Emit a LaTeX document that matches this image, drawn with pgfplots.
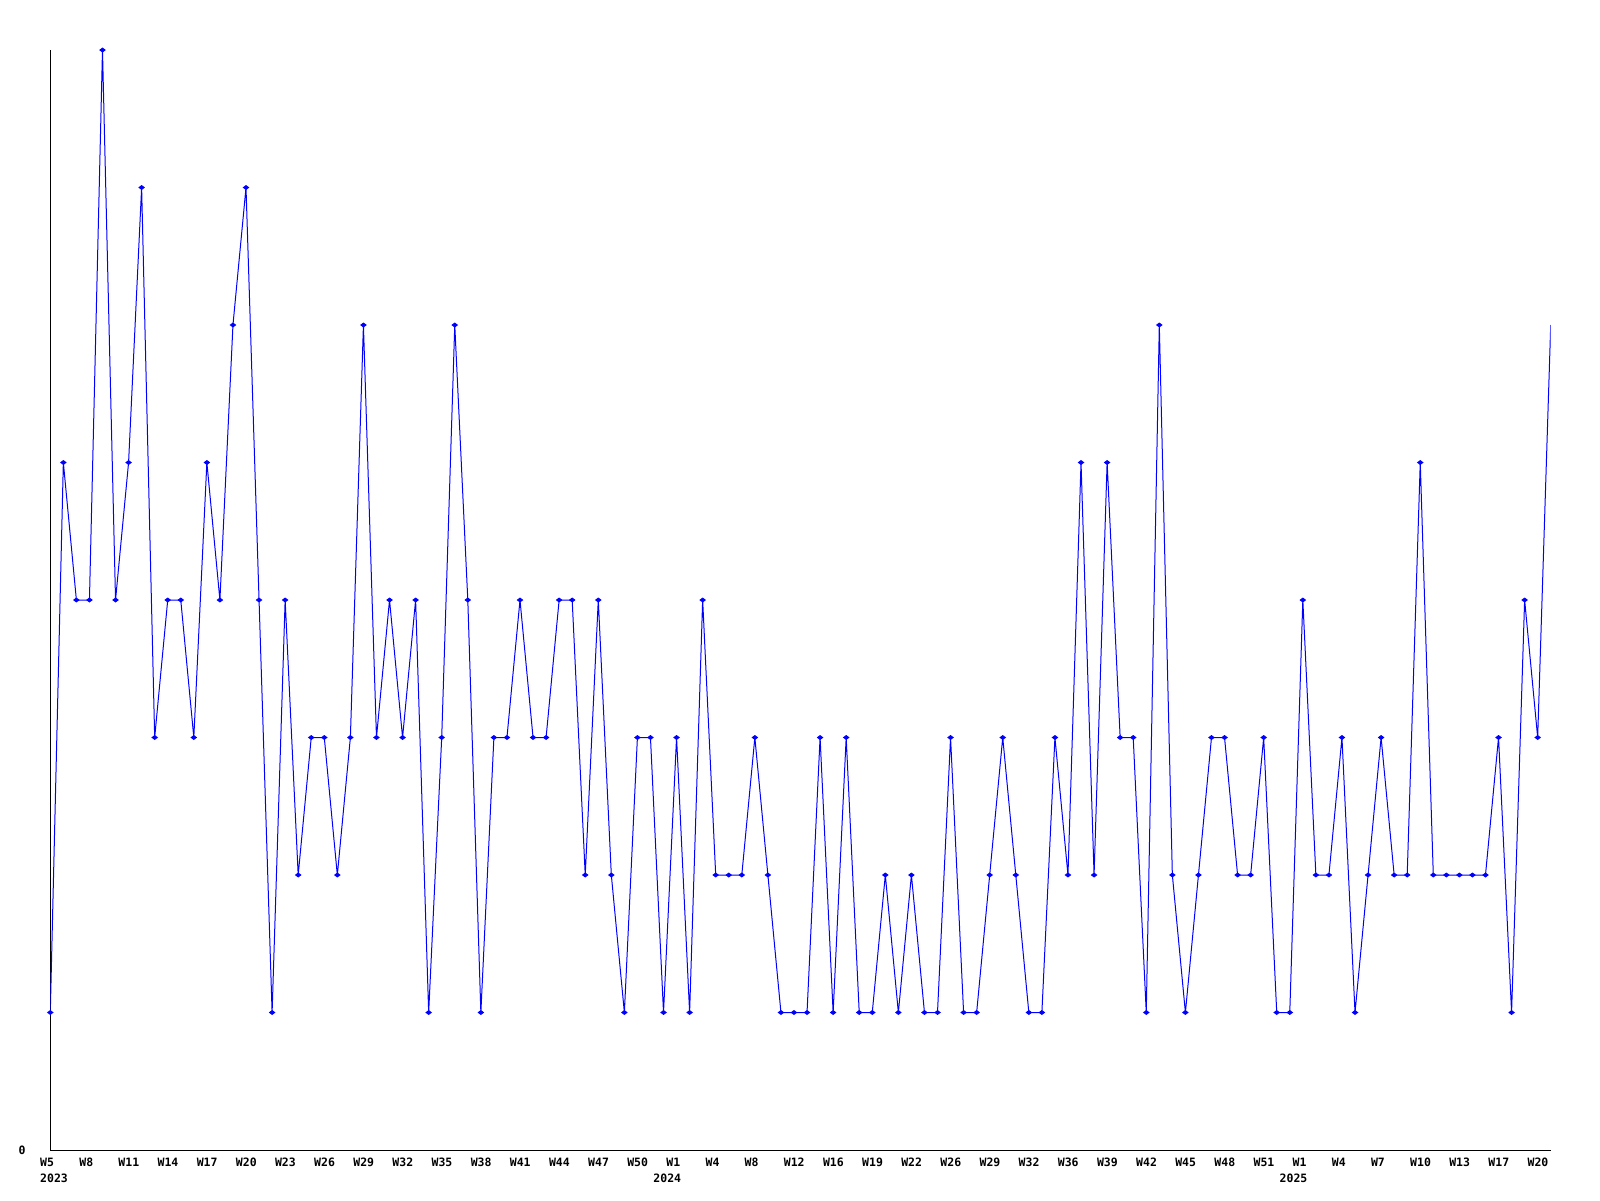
\documentclass[border=0pt]{standalone}
\usepackage{fontspec}
\usepackage{pgfplots}
\pgfplotsset{compat=1.18}
\newfontfamily\lblfont{DejaVu Sans Mono}
\newcommand\lbl{\lblfont\bfseries\fontsize{11.5}{14}\selectfont}
\begin{document}
\begin{tikzpicture}[x=1pt,y=1pt]
\path (0,0) rectangle (1600,1200);
\begin{axis}[
  at={(50.3pt,50pt)}, anchor=south west,
  scale only axis, width=1500.4pt, height=1100pt,
  xmin=0, xmax=115, ymin=0, ymax=8,
  clip mode=individual,
  axis x line*=bottom, axis y line*=left,
  axis line style={black, line width=1pt, -},
  major tick length=0pt,
  xtick={0,3,...,114},
  xticklabels={W5,W8,W11,W14,W17,W20,W23,W26,W29,W32,W35,W38,W41,W44,W47,W50,W1,W4,W8,W12,W16,W19,W22,W26,W29,W32,W36,W39,W42,W45,W48,W51,W1,W4,W7,W10,W13,W17,W20},
  xticklabel style={anchor=north west, inner sep=0pt, xshift=-10.3pt, yshift=-8pt, font=\lbl},
  ytick={0}, yticklabels={0},
  yticklabel style={anchor=east, inner sep=0pt, xshift=-24.6pt, font=\lbl},
]
\addplot[color={rgb,255:red,0;green,0;blue,255}, line width=1pt, mark=diamond*, mark size=2.5pt,
  mark options={rotate=90, solid}, mark indices={1,...,115}] coordinates {
(0,1)(1,5)(2,4)(3,4)(4,8)(5,4)(6,5)(7,7)(8,3)(9,4)
(10,4)(11,3)(12,5)(13,4)(14,6)(15,7)(16,4)(17,1)(18,4)(19,2)
(20,3)(21,3)(22,2)(23,3)(24,6)(25,3)(26,4)(27,3)(28,4)(29,1)
(30,3)(31,6)(32,4)(33,1)(34,3)(35,3)(36,4)(37,3)(38,3)(39,4)
(40,4)(41,2)(42,4)(43,2)(44,1)(45,3)(46,3)(47,1)(48,3)(49,1)
(50,4)(51,2)(52,2)(53,2)(54,3)(55,2)(56,1)(57,1)(58,1)(59,3)
(60,1)(61,3)(62,1)(63,1)(64,2)(65,1)(66,2)(67,1)(68,1)(69,3)
(70,1)(71,1)(72,2)(73,3)(74,2)(75,1)(76,1)(77,3)(78,2)(79,5)
(80,2)(81,5)(82,3)(83,3)(84,1)(85,6)(86,2)(87,1)(88,2)(89,3)
(90,3)(91,2)(92,2)(93,3)(94,1)(95,1)(96,4)(97,2)(98,2)(99,3)
(100,1)(101,2)(102,3)(103,2)(104,2)(105,5)(106,2)(107,2)(108,2)(109,2)
(110,2)(111,3)(112,1)(113,4)(114,3)(115,6)
};
\node[anchor=north west, inner sep=0pt, font=\lbl, xshift=-10.3pt, yshift=-23.3pt] at (axis cs:0,0) {2023};
\node[anchor=north west, inner sep=0pt, font=\lbl, xshift=-10.3pt, yshift=-23.3pt] at (axis cs:47,0) {2024};
\node[anchor=north west, inner sep=0pt, font=\lbl, xshift=-10.3pt, yshift=-23.3pt] at (axis cs:95,0) {2025};
\end{axis}
\end{tikzpicture}
\end{document}
